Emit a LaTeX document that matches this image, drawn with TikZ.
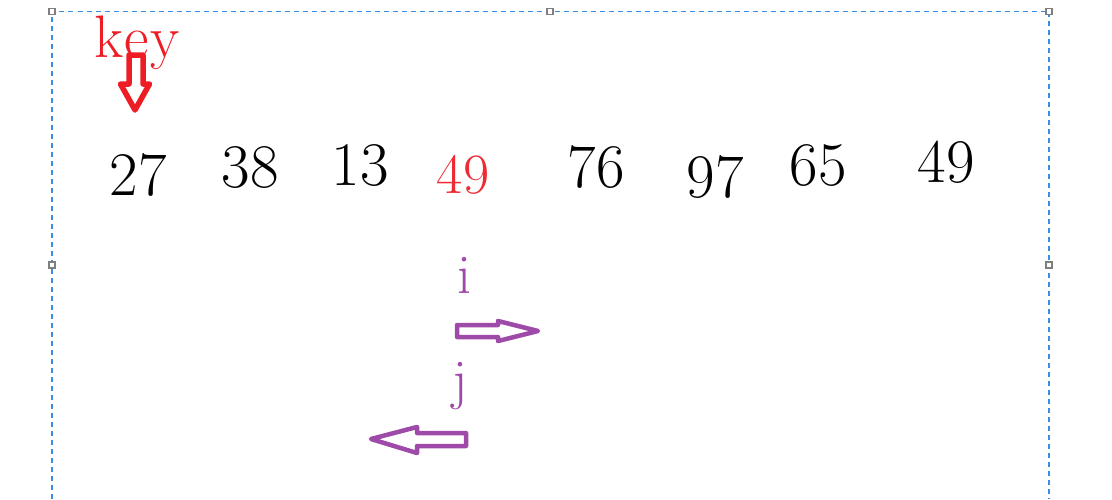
\documentclass[tikz,border=0pt]{standalone}
\usetikzlibrary{positioning}
\definecolor{kred}{HTML}{EE1D25}
\definecolor{nred}{HTML}{EE2A33}
\definecolor{ppl}{HTML}{9E4AA8}
\definecolor{fblue}{HTML}{3A8EE0}
\definecolor{hgray}{HTML}{7F7F7F}
\tikzset{
  num/.style={anchor=base, inner sep=0pt, font=\fontsize{62}{70}\selectfont},
  lbl/.style={anchor=base, inner sep=0pt, font=\fontsize{56}{64}\selectfont},
  hollow/.style={line width=4.5pt, line join=round, line cap=round},
  handle/.style={draw=hgray, fill=white, line width=1.2pt, minimum size=6pt, inner sep=0pt, rectangle},
  frame/.style={draw=fblue, dashed, dash pattern=on 5pt off 4pt, line width=1.4pt}
}
\begin{document}
\begin{tikzpicture}[x=1pt,y=-1pt]
\useasboundingbox (0,0) rectangle (1112,499);
% selection frame
\coordinate (fbl) at (52,499);
\coordinate (ftl) at (52,11.5);
\coordinate (ftr) at (1049,11.5);
\coordinate (fbr) at (1049,499);
\draw[frame] (fbl) -- (ftl) -- (ftr) -- (fbr);
\node[handle] (h1) at (52,11.5) {};
\node[handle] (h2) at (550,11.5) {};
\node[handle] (h3) at (1049,11.5) {};
\node[handle] (h4) at (52,265) {};
\node[handle] (h5) at (1049,265) {};
% key
\node[lbl, text=kred, font=\fontsize{60}{66}\selectfont] (key) at (137,57) {k\kern1pt e\kern1pt y};
\draw[hollow, draw=kred, line width=5.5pt] (129,55) -- (143,55) -- (143,84) -- (149.5,84) -- (135,110) -- (120.5,84) -- (129,84) -- cycle;
% numbers
\node[num] (n1) at (138,195) {27};
\node[num] (n2) at (250,187) {38};
\node[num] (n3) at (360,185) {13};
\node[num, text=nred, font=\fontsize{57}{64}\selectfont] (n4) at (463,193) {49};
\node[num] (n5) at (596,187) {76};
\node[num] (n6) at (715,197) {97};
\node[num] (n7) at (818,185) {65};
\node[num] (n8) at (946,182) {49};
% i and j
\node[lbl, text=ppl] (i) at (464,293) {i};
\draw[hollow, draw=ppl, line width=4.5pt] (457,325) -- (498,325) -- (498,321) -- (538,331) -- (498,341) -- (498,337) -- (457,337) -- cycle;
\node[lbl, text=ppl] (j) at (460,398) {j};
\draw[hollow, draw=ppl, line width=4.5pt] (371,439) -- (417,427) -- (417,433) -- (466,433) -- (466,446) -- (417,446) -- (417,453) -- cycle;
\end{tikzpicture}
\end{document}
